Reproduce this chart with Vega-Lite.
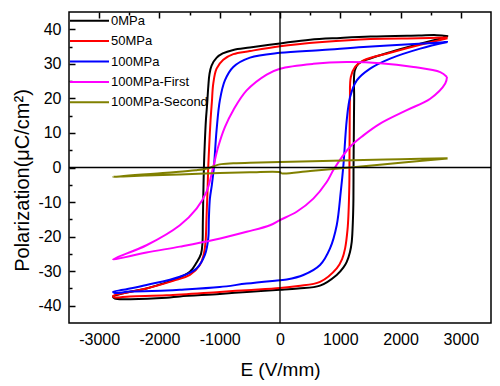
{
"$schema": "https://vega.github.io/schema/vega-lite/v6.json",
"width": 422, "height": 311,
"autosize": "none",
"padding": {"left": 69, "top": 12, "right": 9, "bottom": 63},
"background": "white",
"config": {
  "view": {"stroke": "black", "strokeWidth": 1.5},
  "axis": {"domain": false, "grid": true, "ticks": false, "tickSize": 0, "gridColor": "black", "gridOpacity": 1, "gridWidth": 1.5, "labelFont": "Liberation Sans", "titleFont": "Liberation Sans", "labelColor": "black", "titleColor": "black", "labelFontSize": 16, "titleFontSize": 19, "titleFontWeight": "normal"}
},
"layer": [
 {
  "data": {"values": [
{"s":"0MPa","i":0,"E":2790,"P":38.0},{"s":"0MPa","i":1,"E":2600,"P":38.3},{"s":"0MPa","i":2,"E":2300,"P":38.2},{"s":"0MPa","i":3,"E":1500,"P":37.9},{"s":"0MPa","i":4,"E":1000,"P":37.5},{"s":"0MPa","i":5,"E":500,"P":37.0},{"s":"0MPa","i":6,"E":0,"P":35.9},{"s":"0MPa","i":7,"E":-500,"P":34.7},{"s":"0MPa","i":8,"E":-775,"P":34.0},{"s":"0MPa","i":9,"E":-950,"P":33.0},{"s":"0MPa","i":10,"E":-1050,"P":31.8},{"s":"0MPa","i":11,"E":-1135,"P":29.5},{"s":"0MPa","i":12,"E":-1170,"P":27.0},{"s":"0MPa","i":13,"E":-1190,"P":23.3},{"s":"0MPa","i":14,"E":-1210,"P":18.0},{"s":"0MPa","i":15,"E":-1229,"P":13.7},{"s":"0MPa","i":16,"E":-1250,"P":6.0},{"s":"0MPa","i":17,"E":-1262,"P":0.2},{"s":"0MPa","i":18,"E":-1272,"P":-8.0},{"s":"0MPa","i":19,"E":-1280,"P":-16.0},{"s":"0MPa","i":20,"E":-1286,"P":-21.8},{"s":"0MPa","i":21,"E":-1310,"P":-25.0},{"s":"0MPa","i":22,"E":-1384,"P":-27.5},{"s":"0MPa","i":23,"E":-1495,"P":-30.2},{"s":"0MPa","i":24,"E":-1772,"P":-32.6},{"s":"0MPa","i":25,"E":-2000,"P":-33.9},{"s":"0MPa","i":26,"E":-2215,"P":-35.0},{"s":"0MPa","i":27,"E":-2603,"P":-36.4},{"s":"0MPa","i":28,"E":-2770,"P":-37.4},{"s":"0MPa","i":29,"E":-2740,"P":-37.9},{"s":"0MPa","i":30,"E":-2547,"P":-38.1},{"s":"0MPa","i":31,"E":-1882,"P":-37.7},{"s":"0MPa","i":32,"E":-1661,"P":-37.3},{"s":"0MPa","i":33,"E":-1000,"P":-36.6},{"s":"0MPa","i":34,"E":-553,"P":-36.0},{"s":"0MPa","i":35,"E":0,"P":-35.4},{"s":"0MPa","i":36,"E":300,"P":-35.0},{"s":"0MPa","i":37,"E":664,"P":-34.2},{"s":"0MPa","i":38,"E":941,"P":-31.1},{"s":"0MPa","i":39,"E":1050,"P":-29.0},{"s":"0MPa","i":40,"E":1107,"P":-27.3},{"s":"0MPa","i":41,"E":1160,"P":-24.5},{"s":"0MPa","i":42,"E":1190,"P":-21.5},{"s":"0MPa","i":43,"E":1210,"P":-15.0},{"s":"0MPa","i":44,"E":1218,"P":-9.0},{"s":"0MPa","i":45,"E":1220,"P":0.7},{"s":"0MPa","i":46,"E":1225,"P":10.0},{"s":"0MPa","i":47,"E":1230,"P":20.0},{"s":"0MPa","i":48,"E":1240,"P":28.1},{"s":"0MPa","i":49,"E":1301,"P":30.0},{"s":"0MPa","i":50,"E":1440,"P":31.2},{"s":"0MPa","i":51,"E":1827,"P":33.4},{"s":"0MPa","i":52,"E":2326,"P":35.8},{"s":"0MPa","i":53,"E":2770,"P":37.8},
{"s":"50MPa","i":0,"E":2780,"P":37.6},{"s":"50MPa","i":1,"E":2300,"P":37.4},{"s":"50MPa","i":2,"E":1500,"P":37.2},{"s":"50MPa","i":3,"E":700,"P":36.3},{"s":"50MPa","i":4,"E":0,"P":35.1},{"s":"50MPa","i":5,"E":-498,"P":33.7},{"s":"50MPa","i":6,"E":-775,"P":32.8},{"s":"50MPa","i":7,"E":-941,"P":31.2},{"s":"50MPa","i":8,"E":-1052,"P":28.6},{"s":"50MPa","i":9,"E":-1107,"P":24.3},{"s":"50MPa","i":10,"E":-1130,"P":19.0},{"s":"50MPa","i":11,"E":-1152,"P":13.7},{"s":"50MPa","i":12,"E":-1175,"P":6.0},{"s":"50MPa","i":13,"E":-1190,"P":0.2},{"s":"50MPa","i":14,"E":-1205,"P":-8.0},{"s":"50MPa","i":15,"E":-1220,"P":-15.0},{"s":"50MPa","i":16,"E":-1235,"P":-21.5},{"s":"50MPa","i":17,"E":-1270,"P":-25.5},{"s":"50MPa","i":18,"E":-1329,"P":-28.2},{"s":"50MPa","i":19,"E":-1495,"P":-31.1},{"s":"50MPa","i":20,"E":-1772,"P":-32.8},{"s":"50MPa","i":21,"E":-2215,"P":-35.0},{"s":"50MPa","i":22,"E":-2603,"P":-36.4},{"s":"50MPa","i":23,"E":-2770,"P":-37.2},{"s":"50MPa","i":24,"E":-2740,"P":-37.6},{"s":"50MPa","i":25,"E":-2492,"P":-37.3},{"s":"50MPa","i":26,"E":-1882,"P":-37.0},{"s":"50MPa","i":27,"E":-1000,"P":-36.0},{"s":"50MPa","i":28,"E":-553,"P":-35.5},{"s":"50MPa","i":29,"E":0,"P":-34.9},{"s":"50MPa","i":30,"E":300,"P":-34.3},{"s":"50MPa","i":31,"E":664,"P":-33.1},{"s":"50MPa","i":32,"E":941,"P":-29.2},{"s":"50MPa","i":33,"E":1030,"P":-26.5},{"s":"50MPa","i":34,"E":1080,"P":-23.4},{"s":"50MPa","i":35,"E":1120,"P":-18.0},{"s":"50MPa","i":36,"E":1135,"P":-13.8},{"s":"50MPa","i":37,"E":1150,"P":-5.0},{"s":"50MPa","i":38,"E":1152,"P":0.7},{"s":"50MPa","i":39,"E":1155,"P":10.0},{"s":"50MPa","i":40,"E":1160,"P":20.0},{"s":"50MPa","i":41,"E":1175,"P":26.2},{"s":"50MPa","i":42,"E":1246,"P":29.1},{"s":"50MPa","i":43,"E":1384,"P":31.0},{"s":"50MPa","i":44,"E":1827,"P":33.2},{"s":"50MPa","i":45,"E":2326,"P":35.5},{"s":"50MPa","i":46,"E":2780,"P":37.4},
{"s":"100MPa","i":0,"E":2780,"P":36.3},{"s":"100MPa","i":1,"E":2300,"P":35.8},{"s":"100MPa","i":2,"E":1384,"P":34.9},{"s":"100MPa","i":3,"E":700,"P":34.0},{"s":"100MPa","i":4,"E":0,"P":33.2},{"s":"100MPa","i":5,"E":-498,"P":31.8},{"s":"100MPa","i":6,"E":-775,"P":29.1},{"s":"100MPa","i":7,"E":-914,"P":25.2},{"s":"100MPa","i":8,"E":-997,"P":19.5},{"s":"100MPa","i":9,"E":-1052,"P":10.8},{"s":"100MPa","i":10,"E":-1096,"P":0.2},{"s":"100MPa","i":11,"E":-1130,"P":-5.0},{"s":"100MPa","i":12,"E":-1163,"P":-9.0},{"s":"100MPa","i":13,"E":-1180,"P":-15.0},{"s":"100MPa","i":14,"E":-1190,"P":-20.5},{"s":"100MPa","i":15,"E":-1246,"P":-25.3},{"s":"100MPa","i":16,"E":-1384,"P":-29.2},{"s":"100MPa","i":17,"E":-1661,"P":-31.6},{"s":"100MPa","i":18,"E":-2215,"P":-34.0},{"s":"100MPa","i":19,"E":-2600,"P":-35.4},{"s":"100MPa","i":20,"E":-2770,"P":-36.0},{"s":"100MPa","i":21,"E":-2740,"P":-36.3},{"s":"100MPa","i":22,"E":-2492,"P":-35.9},{"s":"100MPa","i":23,"E":-1882,"P":-35.6},{"s":"100MPa","i":24,"E":-1661,"P":-35.4},{"s":"100MPa","i":25,"E":-1000,"P":-34.6},{"s":"100MPa","i":26,"E":-553,"P":-33.6},{"s":"100MPa","i":27,"E":0,"P":-32.6},{"s":"100MPa","i":28,"E":111,"P":-32.4},{"s":"100MPa","i":29,"E":388,"P":-31.1},{"s":"100MPa","i":30,"E":664,"P":-28.2},{"s":"100MPa","i":31,"E":830,"P":-23.4},{"s":"100MPa","i":32,"E":941,"P":-16.7},{"s":"100MPa","i":33,"E":1008,"P":-7.0},{"s":"100MPa","i":34,"E":1052,"P":0.7},{"s":"100MPa","i":35,"E":1107,"P":13.7},{"s":"100MPa","i":36,"E":1163,"P":20.4},{"s":"100MPa","i":37,"E":1274,"P":25.2},{"s":"100MPa","i":38,"E":1495,"P":28.6},{"s":"100MPa","i":39,"E":1827,"P":31.5},{"s":"100MPa","i":40,"E":2326,"P":34.4},{"s":"100MPa","i":41,"E":2780,"P":36.3},
{"s":"100MPa-First","i":0,"E":2770,"P":26.2},{"s":"100MPa-First","i":1,"E":2658,"P":27.6},{"s":"100MPa-First","i":2,"E":2215,"P":29.1},{"s":"100MPa-First","i":3,"E":1661,"P":30.2},{"s":"100MPa-First","i":4,"E":1107,"P":30.5},{"s":"100MPa-First","i":5,"E":553,"P":30.0},{"s":"100MPa-First","i":6,"E":0,"P":28.6},{"s":"100MPa-First","i":7,"E":-221,"P":26.9},{"s":"100MPa-First","i":8,"E":-553,"P":22.3},{"s":"100MPa-First","i":9,"E":-775,"P":16.6},{"s":"100MPa-First","i":10,"E":-914,"P":11.7},{"s":"100MPa-First","i":11,"E":-1025,"P":6.0},{"s":"100MPa-First","i":12,"E":-1107,"P":0.2},{"s":"100MPa-First","i":13,"E":-1218,"P":-7.0},{"s":"100MPa-First","i":14,"E":-1384,"P":-11.9},{"s":"100MPa-First","i":15,"E":-1661,"P":-16.7},{"s":"100MPa-First","i":16,"E":-2215,"P":-22.5},{"s":"100MPa-First","i":17,"E":-2770,"P":-26.6},{"s":"100MPa-First","i":18,"E":-2215,"P":-24.6},{"s":"100MPa-First","i":19,"E":-1661,"P":-22.9},{"s":"100MPa-First","i":20,"E":-1107,"P":-21.0},{"s":"100MPa-First","i":21,"E":-553,"P":-18.6},{"s":"100MPa-First","i":22,"E":-166,"P":-16.7},{"s":"100MPa-First","i":23,"E":0,"P":-15.2},{"s":"100MPa-First","i":24,"E":277,"P":-12.8},{"s":"100MPa-First","i":25,"E":553,"P":-9.0},{"s":"100MPa-First","i":26,"E":775,"P":-4.2},{"s":"100MPa-First","i":27,"E":900,"P":-0.3},{"s":"100MPa-First","i":28,"E":1163,"P":6.0},{"s":"100MPa-First","i":29,"E":1384,"P":9.3},{"s":"100MPa-First","i":30,"E":1661,"P":12.7},{"s":"100MPa-First","i":31,"E":2104,"P":16.6},{"s":"100MPa-First","i":32,"E":2492,"P":19.9},{"s":"100MPa-First","i":33,"E":2741,"P":24.3},{"s":"100MPa-First","i":34,"E":2770,"P":26.2},
{"s":"100MPa-Second","i":0,"E":2780,"P":2.7},{"s":"100MPa-Second","i":1,"E":2000,"P":2.4},{"s":"100MPa-Second","i":2,"E":1384,"P":2.2},{"s":"100MPa-Second","i":3,"E":0,"P":1.6},{"s":"100MPa-Second","i":4,"E":-498,"P":1.4},{"s":"100MPa-Second","i":5,"E":-775,"P":1.2},{"s":"100MPa-Second","i":6,"E":-1000,"P":0.9},{"s":"100MPa-Second","i":7,"E":-1107,"P":0.3},{"s":"100MPa-Second","i":8,"E":-1200,"P":-0.3},{"s":"100MPa-Second","i":9,"E":-1400,"P":-0.8},{"s":"100MPa-Second","i":10,"E":-1882,"P":-1.5},{"s":"100MPa-Second","i":11,"E":-2770,"P":-2.7},{"s":"100MPa-Second","i":12,"E":-2600,"P":-2.6},{"s":"100MPa-Second","i":13,"E":-2215,"P":-2.3},{"s":"100MPa-Second","i":14,"E":-1661,"P":-2.0},{"s":"100MPa-Second","i":15,"E":-1000,"P":-1.6},{"s":"100MPa-Second","i":16,"E":-500,"P":-1.4},{"s":"100MPa-Second","i":17,"E":0,"P":-1.35},{"s":"100MPa-Second","i":18,"E":30,"P":-1.7},{"s":"100MPa-Second","i":19,"E":500,"P":-1.0},{"s":"100MPa-Second","i":20,"E":1163,"P":0.0},{"s":"100MPa-Second","i":21,"E":2000,"P":1.4},{"s":"100MPa-Second","i":22,"E":2780,"P":2.6}
  ]},
  "mark": {"type": "line", "strokeWidth": 2, "interpolate": "catmull-rom"},
  "encoding": {
    "x": {"field": "E", "type": "quantitative", "scale": {"domain": [-3500, 3500], "nice": false, "zero": false},
      "axis": {"orient": "bottom", "values": [-3000,-2500,-2000,-1500,-1000,-500,0,500,1000,1500,2000,2500,3000],
        "labelExpr": "datum.value % 1000 === 0 ? '' + datum.value : ''",
        "gridDash": {"condition": {"test": "datum.value % 1000 === 0", "value": [6, 1000]}, "value": [3, 1000]},
        "labelPadding": 8, "title": "E (V/mm)", "titleFontSize": 19, "titleBaseline": "alphabetic", "titleY": 52}},
    "y": {"field": "P", "type": "quantitative", "scale": {"domain": [-45, 45], "nice": false, "zero": false},
      "axis": {"orient": "left", "values": [-40,-35,-30,-25,-20,-15,-10,-5,0,5,10,15,20,25,30,35,40],
        "labelExpr": "datum.value % 10 === 0 ? '' + datum.value : ''",
        "gridDash": {"condition": {"test": "datum.value % 10 === 0", "value": [6, 1000]}, "value": [3, 1000]},
        "labelPadding": 8, "title": "Polarization(μC/cm²)", "titleFontSize": 20, "titleBaseline": "alphabetic", "titleX": -41, "titleY": 168, "titleAngle": -90}},
    "color": {"field": "s", "type": "nominal",
      "scale": {"domain": ["0MPa", "50MPa", "100MPa", "100MPa-First", "100MPa-Second"], "range": ["#000000", "#ff0000", "#0000ff", "#ff00ff", "#808000"]},
      "legend": {"orient": "none", "legendX": 0, "legendY": 1.2, "title": null, "padding": 0,
        "symbolType": "M-1,0H5", "symbolSize": 169, "symbolStrokeWidth": 2, "labelOffset": 27,
        "labelFont": "Liberation Sans", "labelFontSize": 13, "labelColor": "black", "rowPadding": 5.4}},
    "order": {"field": "i", "type": "quantitative"}
  }
 },
 {
  "data": {"values": [{"z": 0}]},
  "mark": {"type": "rule", "color": "black", "strokeWidth": 1.3},
  "encoding": {"x": {"field": "z", "type": "quantitative",
    "axis": {"orient": "top", "gridDash": [5, 1000], "values": [-3000,-2500,-2000,-1500,-1000,-500,0,500,1000,1500,2000,2500,3000], "labels": false, "title": null}}}
 },
 {
  "data": {"values": [{"z": 0}]},
  "mark": {"type": "rule", "color": "black", "strokeWidth": 1.3},
  "encoding": {"y": {"field": "z", "type": "quantitative",
    "axis": {"orient": "right", "gridDash": [6, 1000], "values": [-40,-35,-30,-25,-20,-15,-10,-5,0,5,10,15,20,25,30,35,40], "labels": false, "title": null}}}
 }
]
}
